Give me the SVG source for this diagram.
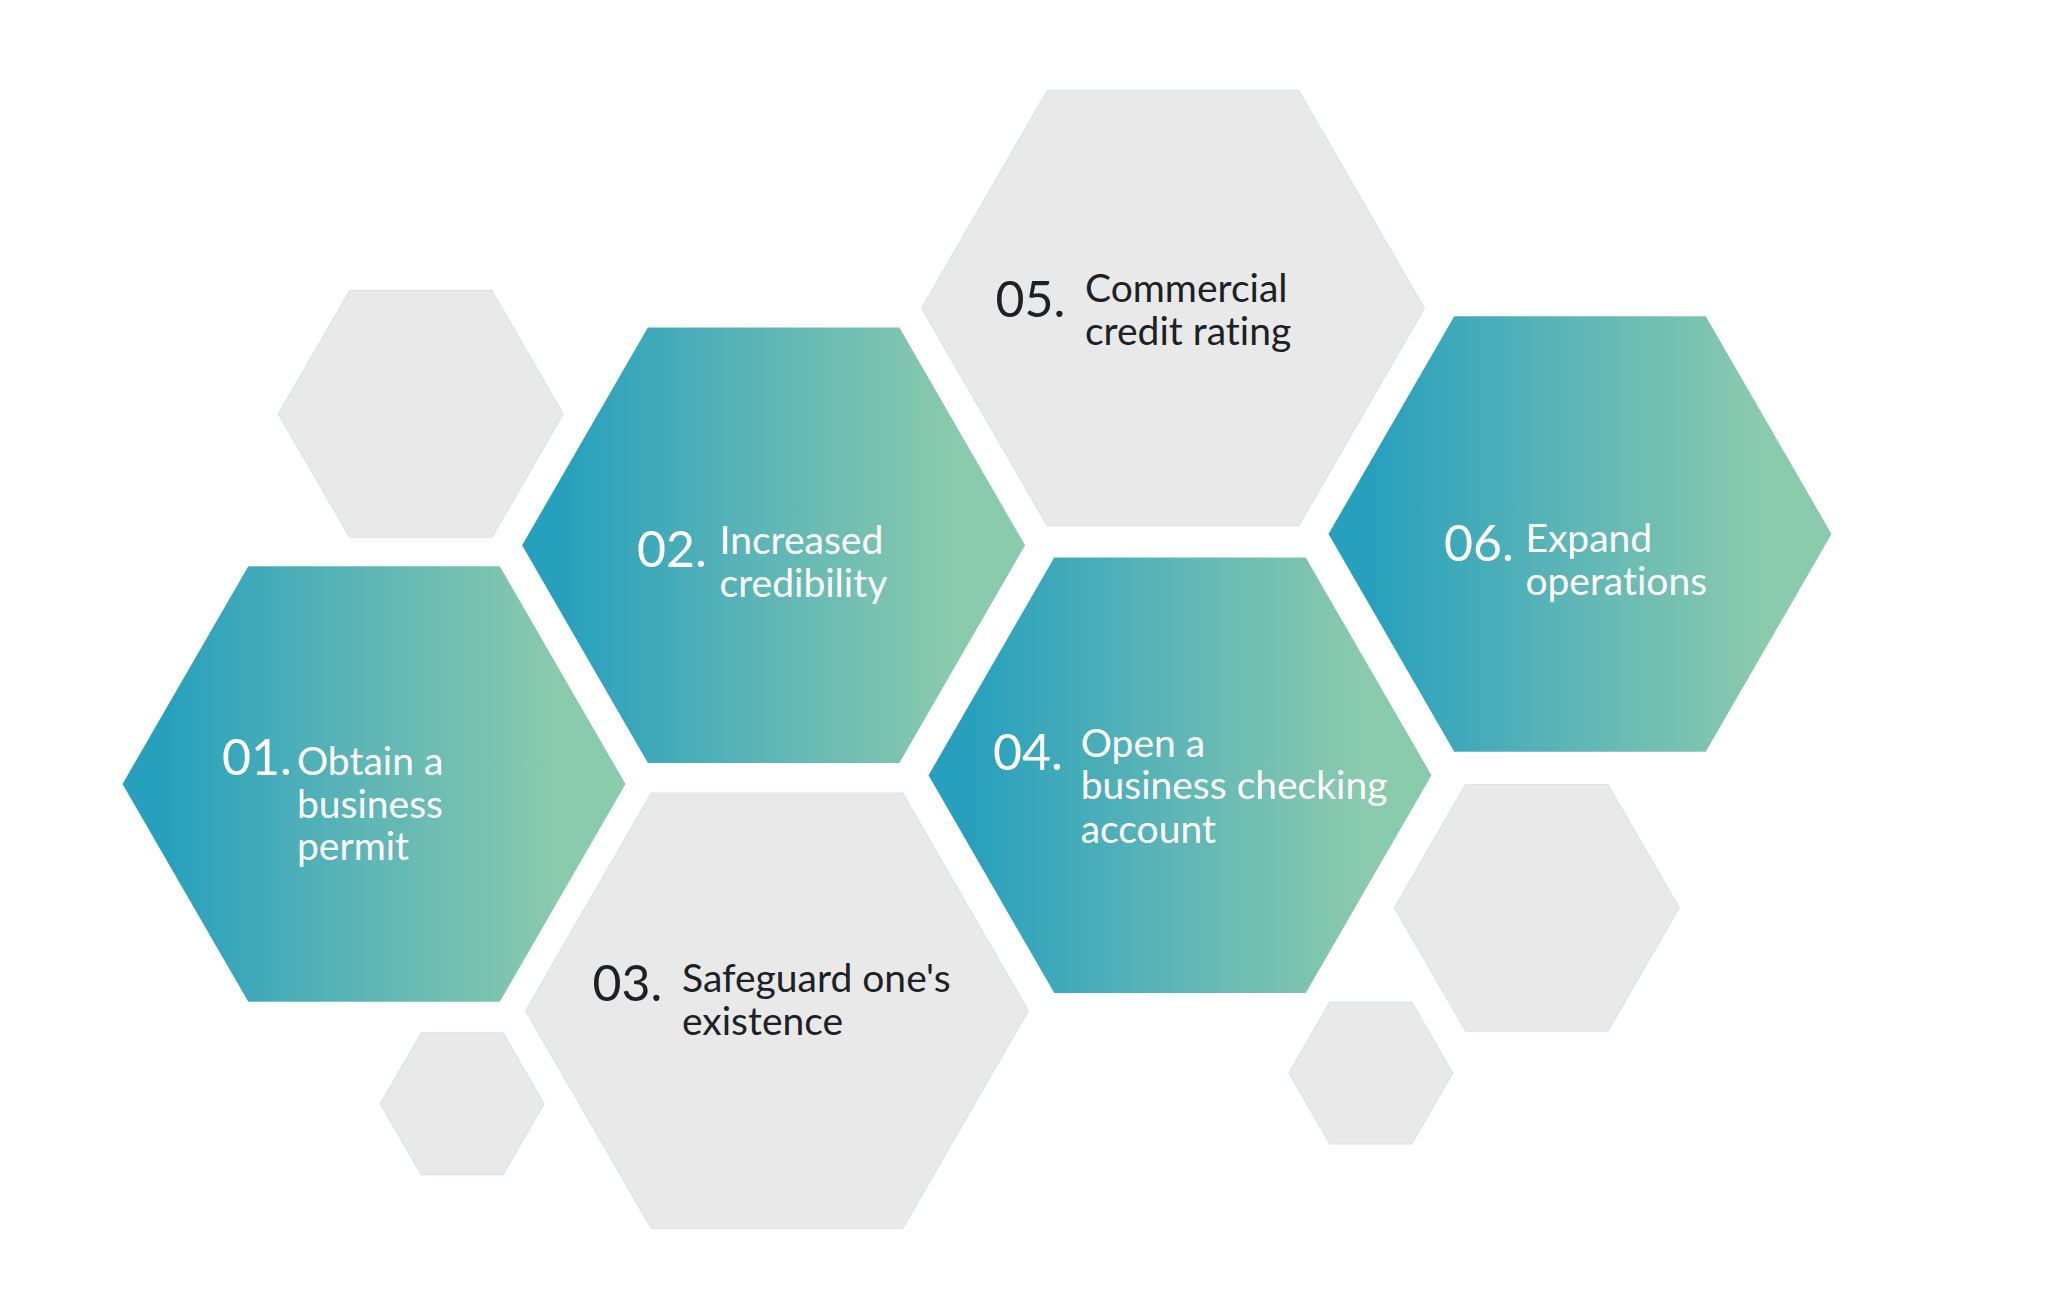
<svg xmlns="http://www.w3.org/2000/svg" width="2048" height="1304" viewBox="0 0 2048 1304">
<defs>
<linearGradient id="teal" x1="0.08" y1="0.5" x2="0.86" y2="0.5">
<stop offset="0" stop-color="#27a0bd"/>
<stop offset="0.5" stop-color="#5cb5b6"/>
<stop offset="1" stop-color="#8acaad"/>
</linearGradient>
<style>
.tealhex{fill:url(#teal);}
.greyhex{fill:#e9e9e9;stroke:#d2e5e1;stroke-width:1;}
.num{font-family:Lato,"Liberation Sans",sans-serif;font-size:50px;}
.lbl{font-family:Lato,"Liberation Sans",sans-serif;font-size:39px;font-variant-ligatures:none;font-feature-settings:"liga" 0,"dlig" 0;}
.light{fill:#ffffff;}
.dark{fill:#1b2124;}
</style>
</defs>
<rect width="2048" height="1304" fill="#ffffff"/>
<g id="deco">
<polygon id="deco-s1" class="greyhex" points="278.3,414 349.55,290.6 492.05,290.6 563.3,414 492.05,537.4 349.55,537.4"/>
<polygon id="deco-s2" class="greyhex" points="380.2,1103.8 421.2,1032.8 503.2,1032.8 544.2,1103.8 503.2,1174.8 421.2,1174.8"/>
<polygon id="deco-s3" class="greyhex" points="1394.3,907.8 1465.55,784.4 1608.05,784.4 1679.3,907.8 1608.05,1031.2 1465.55,1031.2"/>
<polygon id="deco-s4" class="greyhex" points="1288.8,1073 1329.8,1002 1411.8,1002 1452.8,1073 1411.8,1144 1329.8,1144"/>
</g>
<g id="node-01">
<polygon class="tealhex" points="122.5,784 248.25,566.2 499.75,566.2 625.5,784 499.75,1001.8 248.25,1001.8"/>
<text class="num light" x="222" y="775">01.</text>
<text class="lbl light"><tspan x="297" y="775">Obtain a</tspan><tspan x="297" y="817.5">business</tspan><tspan x="297" y="860">permit</tspan></text>
</g>
<g id="node-02">
<polygon class="tealhex" points="522.1,545.3 647.85,327.5 899.35,327.5 1025.1,545.3 899.35,763.1 647.85,763.1"/>
<text class="num light" x="637" y="566.7">02.</text>
<text class="lbl light"><tspan x="719.6" y="554.3">Increased</tspan><tspan x="719.6" y="596.7">credibility</tspan></text>
</g>
<g id="node-03">
<polygon class="greyhex" points="525.5,1010.8 651.25,793 902.75,793 1028.5,1010.8 902.75,1228.6 651.25,1228.6"/>
<text class="num dark" x="592.5" y="1000.7">03.</text>
<text class="lbl dark"><tspan x="682" y="991.7">Safeguard one's</tspan><tspan x="682" y="1035">existence</tspan></text>
</g>
<g id="node-04">
<polygon class="tealhex" points="928.5,775.3 1054.25,557.5 1305.75,557.5 1431.5,775.3 1305.75,993.1 1054.25,993.1"/>
<text class="num light" x="993" y="770">04.</text>
<text class="lbl light"><tspan x="1080.7" y="756.7">Open a</tspan><tspan x="1080.7" y="799.3">business checking</tspan><tspan x="1080.7" y="842.7">account</tspan></text>
</g>
<g id="node-05">
<polygon class="greyhex" points="921.5,308.2 1047.25,90.4 1298.75,90.4 1424.5,308.2 1298.75,526 1047.25,526"/>
<text class="num dark" x="995.5" y="316.7">05.</text>
<text class="lbl dark"><tspan x="1085" y="301.7">Commercial</tspan><tspan x="1085" y="345">credit rating</tspan></text>
</g>
<g id="node-06">
<polygon class="tealhex" points="1328.5,534 1454.25,316.2 1705.75,316.2 1831.5,534 1705.75,751.8 1454.25,751.8"/>
<text class="num light" x="1444" y="560.7">06.</text>
<text class="lbl light"><tspan x="1525.4" y="551.7">Expand</tspan><tspan x="1525.4" y="595">operations</tspan></text>
</g>
</svg>
